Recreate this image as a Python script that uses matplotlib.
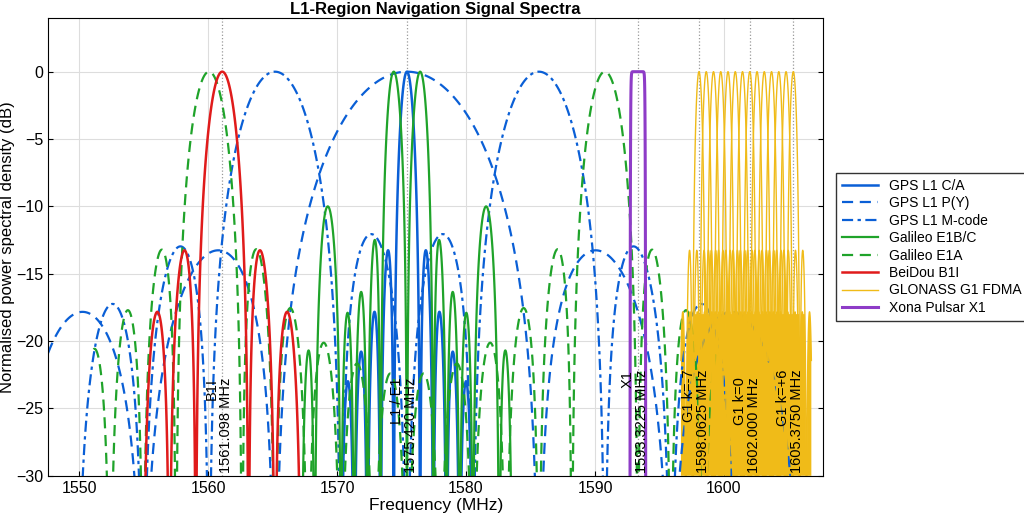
import numpy as np
import matplotlib.pyplot as plt

plt.rcParams['font.family'] = ['Liberation Sans', 'DejaVu Sans']
plt.rcParams['path.simplify'] = False

# signal parameters (MHz)
f_L1 = 1575.42
f_B1I = 1561.098
f_X1 = 1593.3225
glo_k = [-7, -6, -5, -4, -3, -2, -1, 0, 1, 2, 3, 4, 5, 6]
glo_base = 1602.0
glo_step = 0.5625
glo_floor = -18.0  # level below which the G1 channels merge into a solid band
# half-width of the plotted band for each signal
span_ca = 5.115
span_py = 30.69
span_m = 25.6
span_b1i = 6.138
span_e1bc = 8.2
span_e1a = 24.3
span_glo = 1.4
span_x1 = 1.2

markers = [("B1I", f_B1I), ("L1 / E1", f_L1), ("X1", f_X1),
           ("G1 k=-7", 1598.0625), ("G1 k=0", 1602.000), ("G1 k=+6", 1605.3750)]
marker_fmt = ["1561.098 MHz", "1575.420 MHz", "1593.3225 MHz",
              "1598.0625 MHz", "1602.000 MHz", "1605.3750 MHz"]

xmin, xmax = 1547.6, 1607.7


def db(p):
    p = np.maximum(p, 1e-30)
    return 10 * np.log10(p / p.max())


def bpsk(df, fc):
    return np.sinc(df / fc) ** 2


def split(df, fs, fc):
    # two sinc^2 lobes shifted to +/- subcarrier
    return 0.5 * (bpsk(df - fs, fc) + bpsk(df + fs, fc))


def band(fc, span, n=8000):
    return np.linspace(fc - span, fc + span, n)


plt.figure(figsize=(10.24, 5.24), dpi=100)
ax = plt.gca()

blue = '#0a5fd6'
green = '#1fa32a'
red = '#e01b1b'
gold = '#f0bb18'
purple = '#8e3cc7'

f1 = band(f_L1, span_ca)
ax.plot(f1, db(bpsk(f1 - f_L1, 1.023)), color=blue, lw=1.8, label='GPS L1 C/A')
fp = band(f_L1, span_py, 20000)
ax.plot(fp, db(bpsk(fp - f_L1, 10.23)), color=blue, lw=1.6, ls=(0, (5, 3)),
        label='GPS L1 P(Y)')
fm = band(f_L1, span_m, 20000)
ax.plot(fm, db(split(fm - f_L1, 10.23, 5.115)), color=blue, lw=1.6,
        ls=(0, (5, 2, 1.5, 2)), label='GPS L1 M-code')

f2 = band(f_L1, span_e1bc)
d2 = f2 - f_L1
mboc = 10 / 11 * split(d2, 1.023, 1.023) + 1 / 11 * split(d2, 6.138, 1.023)
ax.plot(f2, db(mboc), color=green, lw=1.6, label='Galileo E1B/C')

f3 = band(f_L1, span_e1a, 20000)
ax.plot(f3, db(split(f3 - f_L1, 15.345, 2.5575)), color=green, lw=1.6,
        ls=(0, (5, 3)), label='Galileo E1A')

f4 = band(f_B1I, span_b1i)
ax.plot(f4, db(bpsk(f4 - f_B1I, 2.046)), color=red, lw=1.8, label='BeiDou B1I')

glo_centres = [glo_base + k * glo_step for k in glo_k]
fg_all = np.linspace(glo_centres[0] - span_glo, glo_centres[-1] + span_glo, 8000)
env = np.full_like(fg_all, -60.0)
for i, fg in enumerate(glo_centres):
    f5 = band(fg, span_glo, 20001)
    ax.plot(f5, db(bpsk(f5 - fg, 0.511)), color=gold, lw=1.0,
            label='GLONASS G1 FDMA' if i == 0 else None)
    inside = np.abs(fg_all - fg) <= span_glo
    env[inside] = np.maximum(env[inside], db(bpsk(fg_all[inside] - fg, 0.511)))
ax.fill_between(fg_all, -30, np.minimum(env, glo_floor), color=gold, lw=0, zorder=1.5)

f6 = band(f_X1, span_x1, 3000)
ax.plot(f6, db(np.exp(-(np.abs(f6 - f_X1) / 0.56) ** 24)), color=purple, lw=2.2,
        label='Xona Pulsar X1')

for (name, x), txt in zip(markers, marker_fmt):
    ax.axvline(x, color='#999999', ls=':', lw=0.9, zorder=0.5)
    ax.text(x + 0.85, -29.8, name + '\n' + txt, rotation=90, ha='right', va='bottom',
            fontsize=10.5, linespacing=1.0, zorder=5)

ax.set_xlim(xmin, xmax)
ax.set_ylim(-30, 4)
ax.set_yticks([-30, -25, -20, -15, -10, -5, 0])
ax.set_xticks([1550, 1560, 1570, 1580, 1590, 1600])
ax.tick_params(direction='in', labelsize=11.5, top=False, right=True)
ax.grid(True, color='#dddddd', lw=0.8)
ax.set_axisbelow(True)
ax.set_title('L1-Region Navigation Signal Spectra', fontsize=12, fontweight='bold', pad=3)
ax.set_xlabel('Frequency (MHz)', fontsize=12.5, labelpad=2)
ax.set_ylabel('Normalised power spectral density (dB)', fontsize=12, labelpad=1)
ax.legend(loc='center left', bbox_to_anchor=(1.008, 0.5), fontsize=10, fancybox=False,
          edgecolor='black', handlelength=2.6, borderpad=0.4, labelspacing=0.25)

plt.subplots_adjust(left=0.047, right=0.804, top=0.966, bottom=0.092)
plt.savefig("out.png", dpi=100)
